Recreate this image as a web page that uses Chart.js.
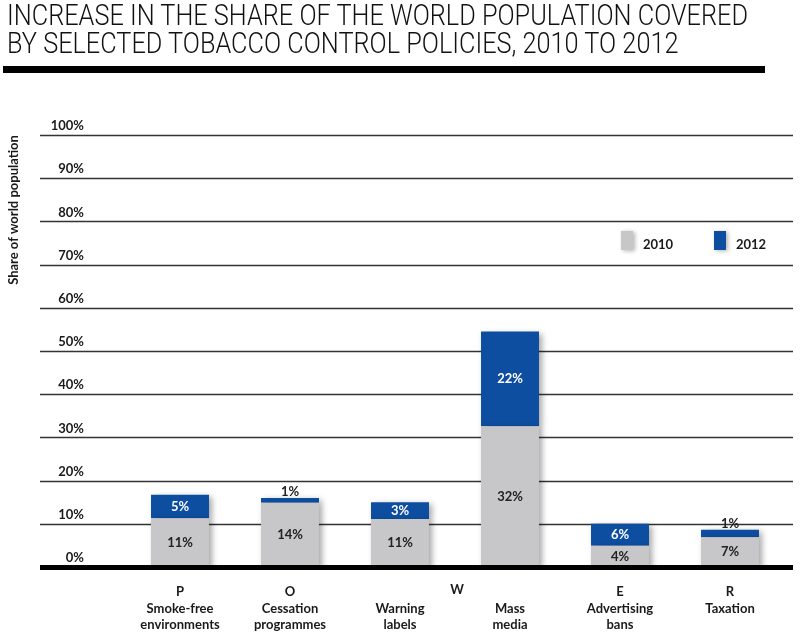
<!DOCTYPE html>
<html>
<head>
<meta charset="utf-8">
<script src="https://cdn.jsdelivr.net/npm/chart.js@4"></script>
<style>
  body { margin: 0; background: #fff; }
  #wrap { position: relative; width: 800px; height: 634px; overflow: hidden; }
  canvas { position: absolute; left: 0; top: 0; }
  .t { position: absolute; left: 7px; font: 300 29.5px Roboto; line-height: 28px; color: #111;
       white-space: nowrap; transform-origin: 0 0; }
  #rule { position: absolute; left: 3px; top: 66px; width: 762px; height: 7px; background: #000; }
</style>
</head>
<body>
<div id="wrap">
  <canvas id="myChart" width="800" height="634"></canvas>
  <div class="t" id="t1" style="top:1px">INCREASE IN THE SHARE OF THE WORLD POPULATION COVERED</div>
  <div class="t" id="t2" style="top:29px">BY SELECTED TOBACCO CONTROL POLICIES, 2010 TO 2012</div>
  <div id="rule"></div>
</div>
<script>
// policy letters (MPOWER) and names
let letters = ['P', 'O', '', '', 'E', 'R'];
let policies = [
    ['Smoke-free', 'environments'],
    ['Cessation', 'programmes'],
    ['Warning', 'labels'],
    ['Mass', 'media'],
    ['Advertising', 'bans'],
    ['Taxation']
];
// W covers both warning labels and mass media
let sharedLetter = 'W';

// share of world population
let share2010 = [11.3, 14.9, 11.1, 32.6, 4.9, 6.9];
let increase2012 = [5.4, 1.1, 3.9, 21.9, 5.1, 1.7];
let labels2010 = ['11%', '14%', '11%', '32%', '4%', '7%'];
let labels2012 = ['5%', '1%', '3%', '22%', '6%', '1%'];
let yTicks = [0, 10, 20, 30, 40, 50, 60, 70, 80, 90, 100];

let gray = '#c7c7c9';
let blue = '#0d4ea1';
let font = 'Lato';
let weight = 'bold';

// squeeze the title into the width of the original
let t1 = document.getElementById('t1');
let t2 = document.getElementById('t2');
let sx = 741 / t1.getBoundingClientRect().width;
t1.style.transform = 'scaleX(' + sx + ')';
t2.style.transform = 'scaleX(' + sx + ')';

let xLabels = [];
for (let i = 0; i < policies.length; i++) {
    xLabels.push([letters[i]].concat(policies[i]));
}

let decor = {
    id: 'decor',
    beforeDatasetsDraw(chart) {
        let ctx = chart.ctx;
        let y = chart.scales.y;
        ctx.save();
        ctx.strokeStyle = '#333';
        ctx.lineWidth = 1.3;
        for (let i = 1; i < yTicks.length; i++) {
            let py = Math.round(y.getPixelForValue(yTicks[i])) + 0.5;
            ctx.beginPath();
            ctx.moveTo(40, py);
            ctx.lineTo(793, py);
            ctx.stroke();
        }
        ctx.restore();
        // soft shadow for the bars
        ctx.save();
        ctx.shadowColor = 'rgba(0,0,0,0.35)';
        ctx.shadowBlur = 6;
        ctx.shadowOffsetX = 3;
        ctx.shadowOffsetY = 2;
    },
    afterDatasetsDraw(chart) {
        let ctx = chart.ctx;
        ctx.restore();
        let y = chart.scales.y;
        let x = chart.scales.x;

        // thick zero line
        ctx.save();
        ctx.fillStyle = '#000';
        let py0 = y.getPixelForValue(0);
        ctx.fillRect(40, py0 - 2, 753, 5);

        // value labels
        ctx.font = weight + ' 13px ' + font;
        ctx.textAlign = 'center';
        ctx.textBaseline = 'middle';
        let m0 = chart.getDatasetMeta(0).data;
        let m1 = chart.getDatasetMeta(1).data;
        for (let i = 0; i < m0.length; i++) {
            let a = m0[i], b = m1[i];
            ctx.fillStyle = '#222';
            ctx.fillText(labels2010[i], a.x, (a.y + a.base) / 2);
            if (increase2012[i] < 2) {
                ctx.fillStyle = '#222';
                ctx.fillText(labels2012[i], b.x, b.y - 6);
            } else {
                ctx.fillStyle = '#fff';
                ctx.fillText(labels2012[i], b.x, (b.y + b.base) / 2);
            }
        }

        // shared W letter between warning labels and mass media
        ctx.fillStyle = '#1a1a1a';
        ctx.fillText(sharedLetter, (x.getPixelForValue(2) + x.getPixelForValue(3)) / 2 + 2, 590);

        // legend
        let ds = chart.data.datasets;
        let lx = [621, 714];
        ctx.textAlign = 'left';
        for (let i = 0; i < ds.length; i++) {
            ctx.save();
            ctx.shadowColor = 'rgba(0,0,0,0.3)';
            ctx.shadowBlur = 4;
            ctx.shadowOffsetX = 2;
            ctx.shadowOffsetY = 1;
            ctx.fillStyle = ds[i].backgroundColor;
            ctx.fillRect(lx[i], 231, 12, 19);
            ctx.restore();
            ctx.fillStyle = '#1a1a1a';
            ctx.fillText(ds[i].label, lx[i] + 22, 245);
        }

        // axis title
        ctx.translate(14, 210);
        ctx.rotate(-Math.PI / 2);
        ctx.textAlign = 'center';
        ctx.font = weight + ' 13px ' + font;
        ctx.fillText('Share of world population', 0, 0);
        ctx.restore();
    }
};

let ctx = document.getElementById('myChart').getContext('2d');
let chart = new Chart(ctx, {
    type: 'bar',
    data: {
        labels: xLabels,
        datasets: [{
            label: '2010',
            data: share2010,
            backgroundColor: gray,
            stack: 's'
        },
        {
            label: '2012',
            data: increase2012,
            backgroundColor: blue,
            stack: 's'
        }]
    },
    options: {
        responsive: false,
        animation: false,
        barPercentage: 0.527,
        categoryPercentage: 1,
        layout: { padding: { left: 0, right: 15, top: 135, bottom: 0 } },
        plugins: {
            legend: { display: false },
            tooltip: { enabled: false }
        },
        scales: {
            x: {
                stacked: true,
                grid: { display: false },
                border: { display: false },
                ticks: {
                    autoSkip: false,
                    maxRotation: 0,
                    padding: 9,
                    color: '#1a1a1a',
                    font: { family: font, weight: weight, size: 13, lineHeight: 1.26 }
                },
                afterFit(s) { s.height = 67; }
            },
            y: {
                stacked: true,
                min: 0,
                max: 100,
                grid: { display: false, drawTicks: false },
                border: { display: false },
                ticks: {
                    stepSize: 10,
                    padding: 41,
                    labelOffset: -9,
                    color: '#1a1a1a',
                    font: { family: font, weight: weight, size: 13 },
                    callback: v => v + '%'
                },
                afterFit(s) { s.width = 125; }
            }
        }
    },
    plugins: [decor]
});
</script>
</body>
</html>
